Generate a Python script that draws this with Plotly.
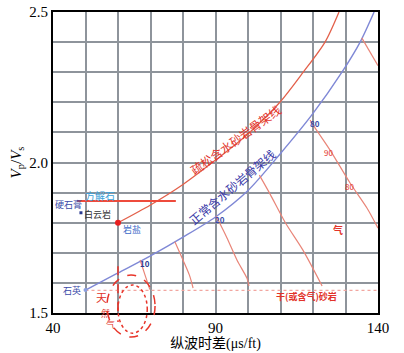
import plotly.graph_objects as go

# ---- data ----
x_ticks = [40, 50, 60, 70, 80, 90, 100, 110, 120, 130, 140]
x_ticktext = ["40", " ", " ", " ", " ", "90", " ", " ", " ", " ", "140"]
y_ticks = [1.5, 1.6, 1.7, 1.8, 1.9, 2.0, 2.1, 2.2, 2.3, 2.4, 2.5]
y_ticktext = ["1.5", " ", " ", " ", " ", "2.0", " ", " ", " ", " ", "2.5"]

# 疏松含水砂岩骨架线 (red)
loose_x = [60, 70, 80, 90, 100, 109.8, 117, 123.7, 128]
loose_y = [1.80, 1.859, 1.927, 2.008, 2.095, 2.20, 2.30, 2.40, 2.50]

# 正常含水砂岩骨架线 (blue)
normal_x = [50, 60, 70, 80, 90, 100, 110, 120, 128.9, 134.5, 138.8]
normal_y = [1.576, 1.633, 1.69, 1.752, 1.819, 1.907, 2.03, 2.163, 2.30, 2.40, 2.50]

# gas lines from the normal trend down to the dry-sand line
gas_a_x = [66.8, 68.5, 69.8]
gas_a_y = [1.676, 1.62, 1.578]
gas_b_x = [77.5, 80.0, 82.0, 83.1]
gas_b_y = [1.737, 1.676, 1.625, 1.583]
gas_c_x = [90.2, 93.5, 96.6, 99.7, 100.3]
gas_c_y = [1.822, 1.75, 1.676, 1.615, 1.59]
gas_d_x = [103.5, 106.8, 111.5, 116.9, 122.8]
gas_d_y = [1.958, 1.895, 1.80, 1.709, 1.59]
gas_e_x = [119.1, 120.0, 125.2, 131.4, 136.6, 140.0]
gas_e_y = [2.141, 2.125, 2.042, 1.932, 1.849, 1.782]
gas_f_x = [135.0, 140.0]
gas_f_y = [2.414, 2.322]

# 干(或含气)砂岩 line
dry_x = [50, 140]
dry_y = [1.575, 1.575]

# 硬石膏 horizontal line
anhy_x = [47.4, 77.8]
anhy_y = [1.872, 1.872]

# mineral points
salt_pt = (60, 1.80)
quartz_pt = (50, 1.576)
anhy_pt = (48.6, 1.833)

# natural gas region (data units): centre x, centre y, half-width, half-height
gas_outer = (64.0, 1.523, 7.4, 0.103)
gas_inner = (64.5, 1.513, 4.5, 0.080)

RED = "#e3604a"
BLUE = "#7f88d6"
LRED = "#e98578"

fig = go.Figure()

def line(x, y, color, width=1.2, dash=None, shape="spline"):
    fig.add_trace(go.Scatter(x=x, y=y, mode="lines",
                             line=dict(color=color, width=width, dash=dash, shape=shape, smoothing=0.8),
                             hoverinfo="skip", showlegend=False))

line(dry_x, dry_y, "#f2a6a0", 1.2, "dot", "linear")
line(loose_x, loose_y, RED, 1.3)
line(normal_x, normal_y, BLUE, 1.4)
for gx, gy in [(gas_a_x, gas_a_y), (gas_b_x, gas_b_y), (gas_c_x, gas_c_y),
               (gas_d_x, gas_d_y), (gas_e_x, gas_e_y), (gas_f_x, gas_f_y)]:
    line(gx, gy, LRED, 1.2)
line(anhy_x, anhy_y, "#ee4b3c", 2.0, None, "linear")

fig.add_trace(go.Scatter(x=[salt_pt[0]], y=[salt_pt[1]], mode="markers",
                         marker=dict(color="#e82020", size=6), showlegend=False, hoverinfo="skip"))
fig.add_trace(go.Scatter(x=[quartz_pt[0]], y=[quartz_pt[1]], mode="markers",
                         marker=dict(color="#8aa0e0", size=4), showlegend=False, hoverinfo="skip"))
fig.add_trace(go.Scatter(x=[anhy_pt[0]], y=[anhy_pt[1]], mode="markers",
                         marker=dict(color="#2a3a90", size=3, symbol="square"), showlegend=False, hoverinfo="skip", cliponaxis=False))

XR = (40, 140)
YR = (1.5, 2.5)

def px(v):
    return (v - XR[0]) / (XR[1] - XR[0])

def py(v):
    return (v - YR[0]) / (YR[1] - YR[0])

shapes = []
for (cx, cy, rx, ry), dash in [(gas_outer, "dash"), (gas_inner, "dot")]:
    shapes.append(dict(type="circle", xref="paper", yref="paper",
                       x0=px(cx - rx), x1=px(cx + rx), y0=py(cy - ry), y1=py(cy + ry),
                       line=dict(color="#e8352a", width=1.5, dash=dash)))
shapes.append(dict(type="line", xref="paper", yref="paper",
                   x0=px(60), x1=px(60), y0=py(1.655), y1=py(1.47),
                   line=dict(color="#e8352a", width=1.5, dash="dash")))

CJK = "Noto Sans CJK SC"
ann = []

def text(x, y, t, color, size=9, angle=0, bold=False, ref="data"):
    ann.append(dict(x=x, y=y, text=("<b>%s</b>" % t) if bold else t, showarrow=False,
                    xref="x" if ref == "data" else "paper", yref="y" if ref == "data" else "paper",
                    font=dict(family=CJK, size=size, color=color), textangle=angle))

text(96.0, 2.078, "疏松含水砂岩骨架线", "#e2332a", 12, -36)
text(95.1, 1.919, "正常含水砂岩骨架线", "#3a3aa8", 12, -40)
text(54.5, 1.889, "方解石", "#3aa0d8", 10)
text(44.9, 1.859, "硬石膏", "#3a4aa8", 9)
text(53.8, 1.826, "白云岩", "#333333", 9)
text(64.3, 1.776, "岩盐", "#3a6ac8", 9)
text(45.8, 1.576, "石英", "#3a4aa8", 9)
text(68.3, 1.663, "10", "#2a3a90", 8, bold=True)
text(91.5, 1.81, "20", "#3a4aa8", 8, bold=True)
text(120.5, 2.13, "80", "#3a4aa8", 8, bold=True)
text(124.9, 2.032, "90", "#e2332a", 8)
text(131.2, 1.92, "80", "#e2332a", 8)
text(140.5, 1.81, "70", "#e2332a", 8)
text(127.7, 1.776, "气", "#e2332a", 10, bold=True)
text(118.0, 1.556, "干(或含气)砂岩", "#e2332a", 9, bold=True)
text(px(52.6), py(1.52), "天", "#e2332a", 11, ref="paper")
text(px(54.3), py(1.47), "然", "#e2332a", 9, ref="paper")
text(px(55.8), py(1.432), "气", "#e2332a", 9, ref="paper")

fig.update_layout(
    width=404, height=353,
    margin=dict(l=53, r=26, t=12, b=40),
    paper_bgcolor="white", plot_bgcolor="white",
    font=dict(family="Liberation Serif", size=15, color="black"),
    showlegend=False,
    shapes=shapes, annotations=ann,
    xaxis=dict(range=list(XR), tickvals=x_ticks, ticktext=x_ticktext, automargin=False,
               showgrid=True, gridcolor="#8e949b", gridwidth=2,
               showline=True, linecolor="black", linewidth=2, mirror=True,
               ticks="", zeroline=False, tickfont=dict(family="Liberation Serif", size=15),
               title=dict(text="纵波时差(μs/ft)", font=dict(family="Liberation Serif, " + CJK, size=14), standoff=2)),
    yaxis=dict(range=list(YR), tickvals=y_ticks, ticktext=y_ticktext, automargin=False,
               showgrid=True, gridcolor="#8e949b", gridwidth=2,
               showline=True, linecolor="black", linewidth=2, mirror=True,
               ticks="", zeroline=False, tickfont=dict(family="Liberation Serif", size=15),
               title=dict(text="<i>V</i><sub>p</sub>/<i>V</i><sub>s</sub>", font=dict(family="Liberation Serif", size=15), standoff=4)),
)

fig.write_html("out.html", config={"displayModeBar": False},
               post_script="document.body.style.margin='0px';document.body.style.overflow='hidden';")
